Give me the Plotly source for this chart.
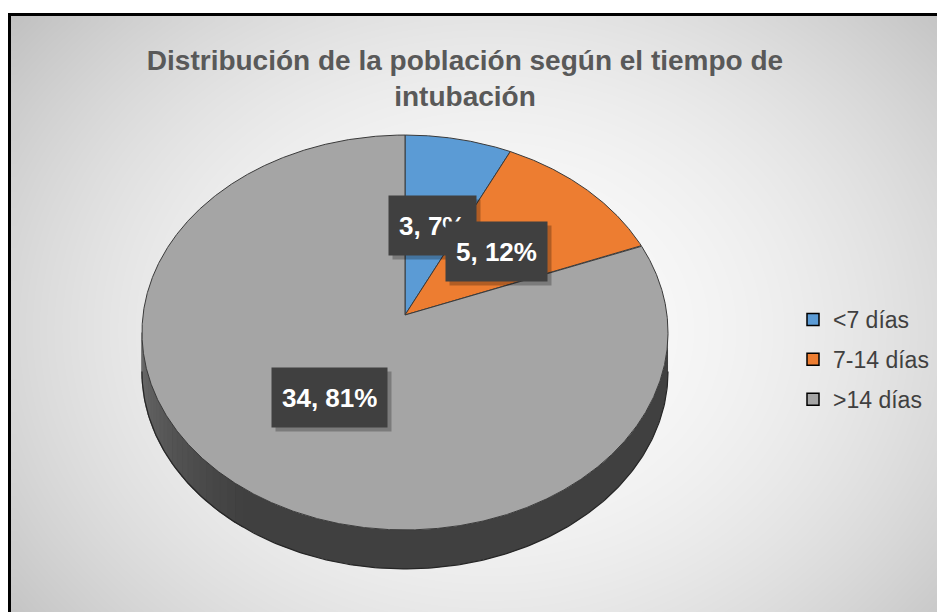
import numpy as np
import plotly.graph_objects as go

# ---------------- data ----------------
categories = ["<7 días", "7-14 días", ">14 días"]
values = [3, 5, 34]
colors = ["#5B9BD5", "#ED7D31", "#A5A5A5"]
title_lines = ["Distribución de la población según el tiempo de", "intubación"]

# ---------------- geometry (page pixel space) ----------------
OFF = 8                       # page body margin
W, H = 945, 612               # window size
FW, FH = W, H                 # figure size (overflow is clipped by the window)
CX, CY = 405.0, 315.0         # projected centre of the pie top
A, B, K = 262.0, 195.9, 0.0886  # horizontal radius, vertical radius, perspective
DEPTH = 39.0                  # thickness of the 3D side


def proj(theta, r=1.0):
    u = r * np.sin(theta)
    v = r * np.cos(theta)
    s = 1.0 + K * v
    return CX + A * u / s, CY - B * v / s


fig = go.Figure()

# background radial gradient inside the chart frame
gx = np.linspace(16, W + 30, 80)
gy = np.linspace(21, H + 30, 52)
GX, GY = np.meshgrid(gx, gy)
d2 = ((GX - 490) / 520) ** 2 + ((GY - 330) / 420) ** 2
z = np.clip(251 - 42 * d2, 185, 252)
fig.add_trace(go.Heatmap(x=gx, y=gy, z=z, zmin=185, zmax=252, zsmooth="best",
                         colorscale=[[0, "rgb(185,185,185)"], [1, "rgb(252,252,252)"]],
                         showscale=False, hoverinfo="skip"))

# ---------------- side of the pie ----------------
tR = np.arccos(-K)            # right silhouette angle
tL = 2 * np.pi - tR           # left silhouette angle

t = np.linspace(tR, tL, 240)
xs, ys = proj(t)
fig.add_trace(go.Scatter(x=np.r_[xs, xs[::-1]], y=np.r_[ys, ys[::-1] + DEPTH],
                         fill="toself", mode="lines", line=dict(width=0),
                         fillcolor="rgb(64,64,64)", hoverinfo="skip", showlegend=False))


def side_shade(tt):
    deg = np.degrees(tt)
    if deg < 215:
        return 64
    return 64 + (deg - 215) / (np.degrees(tL) - 215) * 44


edges = np.linspace(np.radians(215), tL, 25)
for a0, a1 in zip(edges[:-1], edges[1:]):
    tt = np.linspace(a0, a1, 6)
    sx, sy = proj(tt)
    g = int(round(side_shade((a0 + a1) / 2)))
    col = f"rgb({g},{g},{g})"
    fig.add_trace(go.Scatter(x=np.r_[sx, sx[::-1]], y=np.r_[sy, sy[::-1] + DEPTH],
                             fill="toself", mode="lines", line=dict(width=1.2, color=col),
                             fillcolor=col, hoverinfo="skip", showlegend=False))

fig.add_trace(go.Scatter(x=xs, y=ys + DEPTH, mode="lines", line=dict(width=1.2, color="#262626"),
                         hoverinfo="skip", showlegend=False))

# ---------------- top face slices ----------------
total = sum(values)
cum = np.cumsum([0] + values) / total
for i, (cat, v, c) in enumerate(zip(categories, values, colors)):
    t0, t1 = 2 * np.pi * cum[i], 2 * np.pi * cum[i + 1]
    tt = np.linspace(t0, t1, max(8, int(300 * (t1 - t0))))
    px, py = proj(tt)
    fig.add_trace(go.Scatter(x=np.r_[CX, px, CX], y=np.r_[CY, py, CY],
                             fill="toself", mode="lines", fillcolor=c,
                             line=dict(width=1, color="#3a3a3a"),
                             name=cat, hoverinfo="name", showlegend=False))

# ---------------- data labels ----------------
for i, v in enumerate(values):
    tm = np.pi * (cum[i] + cum[i + 1])
    lx, ly = proj(tm, 0.49)
    txt = f"{v}, {round(100 * v / total)}%"
    fig.add_annotation(x=lx, y=ly, xref="x", yref="y", text=f"<b>{txt}</b>", showarrow=False,
                       font=dict(family="Liberation Sans, Arial", size=26, color="rgba(0,0,0,0)"),
                       bgcolor="rgba(0,0,0,0.25)", borderpad=10, height=39, xshift=4, yshift=-4)
    fig.add_annotation(x=lx, y=ly, xref="x", yref="y", text=f"<b>{txt}</b>", showarrow=False,
                       font=dict(family="Liberation Sans, Arial", size=26, color="white"),
                       bgcolor="#404040", borderpad=10, height=39)

# ---------------- legend entries ----------------
for cat, c in zip(categories, colors):
    fig.add_trace(go.Scatter(x=[None], y=[None], mode="markers", name=cat, legendgroup=cat,
                             marker=dict(symbol="square", size=12, color=c,
                                         line=dict(color="black", width=1.5))))

# frame border
fig.add_shape(type="rect", xref="x", yref="y", x0=9.5, y0=14.5, x1=W + 40, y1=H + 40,
              line=dict(color="black", width=3), layer="above")

fig.update_layout(
    width=FW, height=FH,
    margin=dict(l=0, r=0, t=0, b=0),
    paper_bgcolor="white", plot_bgcolor="white",
    xaxis=dict(range=[OFF, W + OFF], visible=False, fixedrange=True),
    yaxis=dict(range=[H + OFF, OFF], visible=False, fixedrange=True),
    title=dict(text="<br>".join(title_lines), x=(465 - OFF) / FW, xanchor="center",
               y=1 - 62 / FH, yanchor="top",
               font=dict(family="Liberation Sans, Arial", size=28, color="#595959", weight="bold")),
    legend=dict(x=785 / FW, y=1 - 290 / FH, xanchor="left", yanchor="top",
                bgcolor="rgba(0,0,0,0)", tracegroupgap=7,
                font=dict(family="Liberation Sans, Arial", size=23, color="#404040")),
    showlegend=True,
)

fig.write_html("out.html")
